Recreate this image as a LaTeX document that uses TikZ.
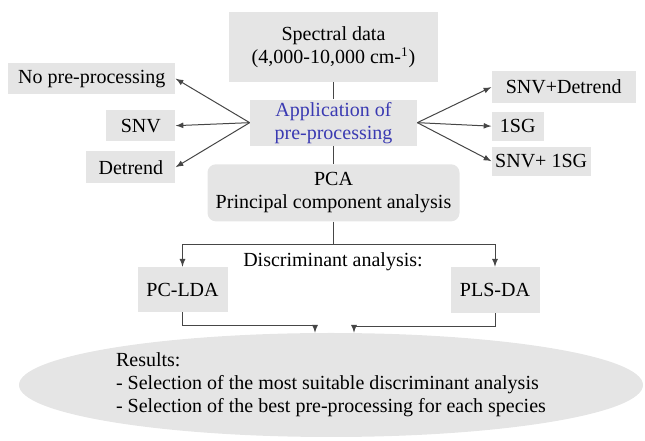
\documentclass[tikz,border=0pt]{standalone}
\usepackage{fontspec}
\setmainfont{LiberationSerif}[Extension=.ttf, UprightFont=*-Regular, BoldFont=*-Bold]
\usepackage{xcolor}
\usepackage{tikz}
\usetikzlibrary{shapes, arrows, positioning}

\definecolor{boxgray}{RGB}{229,229,229}
\definecolor{linegray}{RGB}{70,70,70}
\definecolor{appblue}{RGB}{58,58,178}

\begin{document}
\begin{tikzpicture}[
    x=0.6pt, y=-0.6pt, % grid in pixels, y grows downwards
    node distance=10pt and 44.4pt,
    font=\rmfamily\fontsize{12}{13.8}\selectfont,
    box/.style={rectangle, fill=boxgray, align=center, inner sep=1pt},
    pre/.style={box, minimum height=19pt},
    result/.style={ellipse, fill=boxgray, align=left, inner sep=0pt, minimum width=374.4pt, minimum height=62.4pt},
    line/.style={draw=linegray, line width=0.6pt},
    arrow/.style={line, -latex}
]
    \useasboundingbox (0,0) rectangle (645,441);

    % Main column
    \node [box, minimum width=125.4pt, minimum height=42pt] (spec) at (333.5,47) {Spectral data\\(4,000-10,000 cm-\textsuperscript{1})};
    \node [box, below=10.2pt of spec, minimum width=100.2pt, minimum height=27.6pt, text=appblue] (app) {Application of\\pre-processing};
    \node [box, below=10.8pt of app, rounded corners=5pt, minimum width=151.2pt, minimum height=34.2pt] (pca) {PCA\\Principal component analysis};

    % Left side
    \node [pre, left=of app, yshift=26.4pt, minimum width=100.2pt] (nopre) {No pre-processing};
    \node [pre, left=of app, yshift=-1.8pt, minimum width=41.4pt] (snv) {SNV};
    \node [pre, left=of app, yshift=-26.7pt, minimum width=53.4pt] (detrend) {Detrend};

    % Right side
    \node [pre, right=of app, yshift=21.3pt, minimum width=86.4pt] (snvdt) {SNV+Detrend};
    \node [pre, right=of app, yshift=-2.1pt, minimum width=31.2pt, minimum height=17.4pt] (sg) {1SG};
    \node [pre, right=of app, yshift=-23.1pt, minimum width=59.4pt, minimum height=17.4pt] (snvsg) {SNV+ 1SG};

    % Discriminant analysis
    \node [box, below=27pt of pca, xshift=-90.6pt, minimum width=54pt, minimum height=27pt] (pclda) {PC-LDA};
    \node [box, below=27pt of pca, xshift=96.9pt, minimum width=53.4pt, minimum height=27.6pt] (plsda) {PLS-DA};
    \node (da) at (333,262) {Discriminant analysis:};

    % Results
    \node [result] (res) at (331,385) {Results:\\- Selection of the most suitable discriminant analysis\\- Selection of the best pre-processing for each species};

    % Paths
    \path [line] (spec) -- (app);
    \path [line] (app) -- (pca);

    \draw [arrow] (app.west) -- (nopre.east);
    \draw [arrow] (app.west) -- (snv.east);
    \draw [arrow] (app.west) -- (detrend.east);
    \draw [arrow] (app.east) -- (snvdt.west);
    \draw [arrow] (app.east) -- (sg.west);
    \draw [arrow] (app.east) -- (snvsg.west);

    % Split towards both classifiers
    \coordinate [below=13.8pt of pca] (split);
    \path [line] (pca) -- (split);
    \draw [arrow] (split) -| (pclda);
    \draw [arrow] (split) -| (plsda);

    % Both classifiers into the results
    \coordinate (inL) at ([xshift=-9.6pt]res.north);
    \coordinate (inR) at ([xshift=13.8pt]res.north);
    \draw [arrow] (pclda.south) -- ++(0pt,-7.8pt) -| (inL);
    \draw [arrow] (plsda.south) -- ++(0pt,-7.8pt) -| (inR);
\end{tikzpicture}
\end{document}
